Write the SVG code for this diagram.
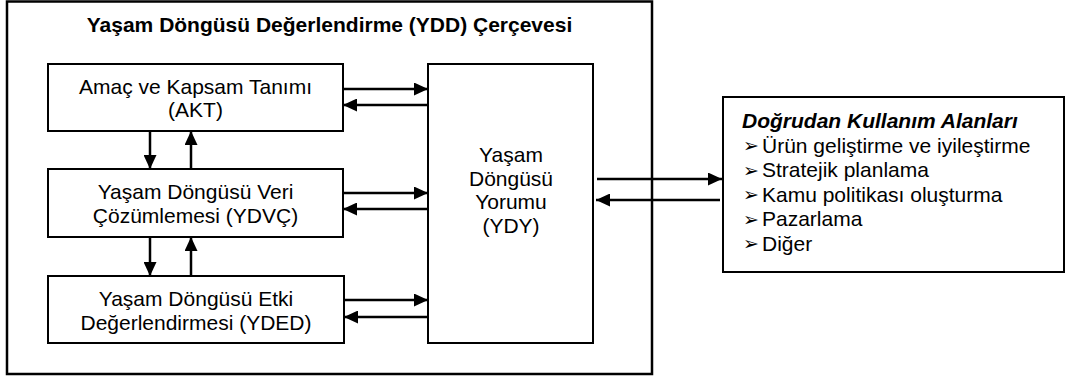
<svg xmlns="http://www.w3.org/2000/svg" width="1069" height="378" viewBox="0 0 1069 378">
  <style>
    .frame { fill: #ffffff; stroke: #000000; stroke-width: 2.5; }
    .box { fill: #ffffff; stroke: #000000; stroke-width: 2; }
    .t { font-family: "Liberation Sans", Arial, sans-serif; font-size: 21px; fill: #000000; }
    .c { text-anchor: middle; }
    .title { font-weight: bold; }
    .hd { font-weight: bold; font-style: italic; }
    .bul { font-family: "DejaVu Sans", sans-serif; font-size: 19px; fill: #000000; }
    .conn line { stroke: #000000; stroke-width: 2.5; marker-end: url(#ah); }
  </style>
  <defs>
    <marker id="ah" markerUnits="userSpaceOnUse" markerWidth="15" markerHeight="13" refX="14" refY="6.5" orient="auto">
      <path d="M0,0 L14,6.5 L0,13 Z" fill="#000000"/>
    </marker>
  </defs>
  <rect width="1069" height="378" fill="#ffffff"/>

  <g id="frame">
    <rect class="frame" x="7" y="1.5" width="645" height="372.5"/>
    <text class="t c title" x="329.5" y="32">Yaşam Döngüsü Değerlendirme (YDD) Çerçevesi</text>
  </g>

  <g id="akt">
    <rect class="box" x="48" y="64" width="295" height="67"/>
    <text class="t c" x="195.5" y="93.5">Amaç ve Kapsam Tanımı</text>
    <text class="t c" x="195.5" y="117">(AKT)</text>
  </g>

  <g id="ydvc">
    <rect class="box" x="48" y="169" width="295" height="68"/>
    <text class="t c" x="195.5" y="199">Yaşam Döngüsü Veri</text>
    <text class="t c" x="195.5" y="223">Çözümlemesi (YDVÇ)</text>
  </g>

  <g id="yded">
    <rect class="box" x="48" y="276" width="296" height="67"/>
    <text class="t c" x="196" y="306">Yaşam Döngüsü Etki</text>
    <text class="t c" x="196" y="330">Değerlendirmesi (YDED)</text>
  </g>

  <g id="ydy">
    <rect class="box" x="428" y="64" width="165" height="279"/>
    <text class="t c" x="511" y="162">Yaşam</text>
    <text class="t c" x="511" y="185.5">Döngüsü</text>
    <text class="t c" x="511" y="209">Yorumu</text>
    <text class="t c" x="511" y="232.5">(YDY)</text>
  </g>

  <g id="kullanim">
    <rect class="box" x="723" y="97" width="341" height="175"/>
    <text class="t hd" x="742" y="128">Doğrudan Kullanım Alanları</text>
    <text class="bul" x="743" y="152">➢</text>
    <text class="t" x="762" y="152.5">Ürün geliştirme ve iyileştirme</text>
    <text class="bul" x="743" y="176.5">➢</text>
    <text class="t" x="762" y="177">Stratejik planlama</text>
    <text class="bul" x="743" y="201">➢</text>
    <text class="t" x="762" y="201.5">Kamu politikası oluşturma</text>
    <text class="bul" x="743" y="225.5">➢</text>
    <text class="t" x="762" y="226">Pazarlama</text>
    <text class="bul" x="743" y="250">➢</text>
    <text class="t" x="762" y="250.5">Diğer</text>
  </g>

  <g id="connectors" class="conn">
    <line x1="343" y1="89" x2="428" y2="89"/>
    <line x1="428" y1="105" x2="343" y2="105"/>
    <line x1="343" y1="193" x2="428" y2="193"/>
    <line x1="428" y1="209" x2="343" y2="209"/>
    <line x1="344" y1="300" x2="428" y2="300"/>
    <line x1="428" y1="317" x2="344" y2="317"/>
    <line x1="150" y1="131" x2="150" y2="169"/>
    <line x1="191" y1="169" x2="191" y2="131"/>
    <line x1="150" y1="237" x2="150" y2="276"/>
    <line x1="191" y1="276" x2="191" y2="237"/>
    <line x1="597" y1="179" x2="722" y2="179"/>
    <line x1="720" y1="200" x2="596" y2="200"/>
  </g>
</svg>
